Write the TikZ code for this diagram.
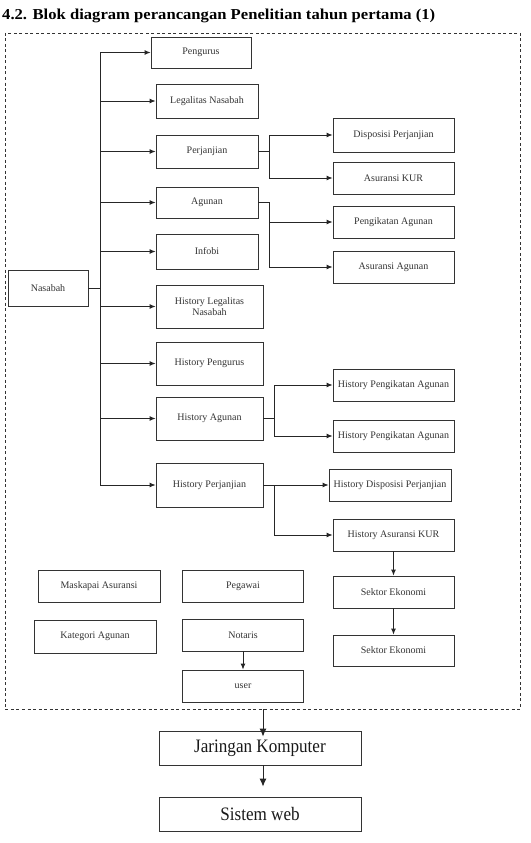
\documentclass[tikz,border=0pt]{standalone}
\usepackage{fontspec}
\usepackage{graphicx}
\setmainfont{Liberation Serif}
\usetikzlibrary{arrows.meta}
\begin{document}
\begin{tikzpicture}[x=1pt,y=-1pt,
  box/.style={draw=black!80, line width=0.8pt, rectangle, inner sep=1pt,
    font=\fontsize{10}{11.5}\selectfont, text=black!80, align=center},
  bigbox/.style={box, font=\fontsize{19}{21}\selectfont, text=black!90},
  conn/.style={draw=black!85, line width=0.9pt},
  arr/.style={conn, -{Latex[length=6pt,width=5pt]}},
  bigarr/.style={conn, line width=1pt, -{Latex[length=8pt,width=7pt]}},
  frame/.style={draw=black!80, line width=0.8pt, dash pattern=on 3pt off 2.5pt}
]
\useasboundingbox (0,0) rectangle (530,843);

% title
\node[anchor=base west, inner sep=0pt] (title) at (2,19.5)
  {\resizebox{433pt}{10.5pt}{\bfseries 4.2. Blok diagram perancangan Penelitian tahun pertama (1)}};

% dashed frame
\draw[frame] (5,33) rectangle (520,709);

% main column
\node[box, minimum width=100pt, minimum height=31pt] (peng) at (201,52.5) {Pengurus};
\node[box, minimum width=102pt, minimum height=34pt] (legal) at (207,101) {Legalitas Nasabah};
\node[box, minimum width=102pt, minimum height=33pt] (perj) at (207,151.5) {Perjanjian};
\node[box, minimum width=102pt, minimum height=31pt] (agun) at (207,202.5) {Agunan};
\node[box, minimum width=102pt, minimum height=35pt] (infobi) at (207,251.5) {Infobi};
\node[box, minimum width=107pt, minimum height=43pt] (hleg) at (209.5,306.5) {History Legalitas\\Nasabah};
\node[box, minimum width=107pt, minimum height=43pt] (hpeng) at (209.5,363.5) {History Pengurus};
\node[box, minimum width=107pt, minimum height=43pt] (hagun) at (209.5,418.5) {History Agunan};
\node[box, minimum width=107pt, minimum height=44pt] (hperj) at (209.5,485) {History Perjanjian};

\node[box, minimum width=80pt, minimum height=36pt] (nasabah) at (48,288) {Nasabah};

% right column
\node[box, minimum width=121pt, minimum height=34pt] (disp) at (393.5,135) {Disposisi Perjanjian};
\node[box, minimum width=121pt, minimum height=32pt] (akur) at (393.5,178) {Asuransi KUR};
\node[box, minimum width=121pt, minimum height=32pt] (pengik) at (393.5,222) {Pengikatan Agunan};
\node[box, minimum width=121pt, minimum height=32pt] (asag) at (393.5,267) {Asuransi Agunan};
\node[box, minimum width=121pt, minimum height=32pt] (hpa1) at (393.5,385) {History Pengikatan Agunan};
\node[box, minimum width=121pt, minimum height=32pt] (hpa2) at (393.5,436) {History Pengikatan Agunan};
\node[box, minimum width=122pt, minimum height=32pt] (hdisp) at (390,485) {History Disposisi Perjanjian};
\node[box, minimum width=121pt, minimum height=32pt] (hakur) at (393.5,535) {History Asuransi KUR};
\node[box, minimum width=121pt, minimum height=32pt] (sek1) at (393.5,592) {Sektor Ekonomi};
\node[box, minimum width=121pt, minimum height=31pt] (sek2) at (393.5,650.5) {Sektor Ekonomi};

% bottom groups
\node[box, minimum width=122pt, minimum height=32pt] (mask) at (99,586) {Maskapai Asuransi};
\node[box, minimum width=122pt, minimum height=33pt] (kat) at (95,636.5) {Kategori Agunan};
\node[box, minimum width=121pt, minimum height=32pt] (peg) at (243,586) {Pegawai};
\node[box, minimum width=121pt, minimum height=32pt] (not) at (243,635) {Notaris};
\node[box, minimum width=121pt, minimum height=32pt] (user) at (243,686) {user};

% outside frame
\node[bigbox, minimum width=202pt, minimum height=34pt] (jar) at (260,748)
  {\scalebox{0.9}[1]{Jaringan Komputer}};
\node[bigbox, minimum width=202pt, minimum height=34pt] (web) at (260,814)
  {\scalebox{0.9}[1]{Sistem web}};

% trunk
\coordinate (tr) at (100,288);
\coordinate (b1) at (269,0);
\coordinate (b2) at (274,0);
\draw[conn] (nasabah.east) -- (tr);
\draw[conn] (peng.west -| tr) -- (hperj.west -| tr);
\foreach \n in {peng,legal,perj,agun,infobi,hleg,hpeng,hagun,hperj}
  \draw[arr] (\n.west -| tr) -- (\n.west);

% Perjanjian branch
\draw[conn] (perj.east) -- (perj.east -| b1);
\draw[conn] (disp.west -| b1) -- (akur.west -| b1);
\draw[arr] (disp.west -| b1) -- (disp.west);
\draw[arr] (akur.west -| b1) -- (akur.west);

% Agunan branch
\draw[conn] (agun.east) -- (agun.east -| b1) -- (asag.west -| b1);
\draw[arr] (pengik.west -| b1) -- (pengik.west);
\draw[arr] (asag.west -| b1) -- (asag.west);

% History Agunan branch
\draw[conn] (hagun.east) -- (hagun.east -| b2);
\draw[conn] (hpa1.west -| b2) -- (hpa2.west -| b2);
\draw[arr] (hpa1.west -| b2) -- (hpa1.west);
\draw[arr] (hpa2.west -| b2) -- (hpa2.west);

% History Perjanjian branch
\draw[arr] (hperj.east) -- (hdisp.west);
\draw[conn] (hperj.east -| b2) -- (hakur.west -| b2);
\draw[arr] (hakur.west -| b2) -- (hakur.west);

% vertical chains
\draw[arr] (hakur.south) -- (sek1.north);
\draw[arr] (sek1.south) -- (sek2.north);
\draw[arr] (not.south) -- (user.north);

% to outside
\coordinate (out) at (263,709);
\draw[bigarr, shorten >=-6pt] (out) -- (out |- jar.north);
\draw[bigarr, shorten >=10pt] (jar.south -| out) -- (web.north -| out);
\end{tikzpicture}
\end{document}
